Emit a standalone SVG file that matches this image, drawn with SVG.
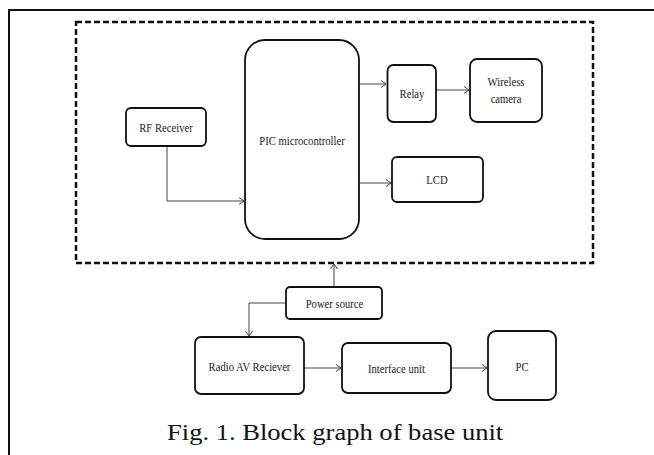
<svg xmlns="http://www.w3.org/2000/svg" width="654" height="455" viewBox="0 0 654 455">
<style>
.box{fill:#fff;stroke:#111;stroke-width:1.8}
.lbl{font-family:'Liberation Serif',serif;font-size:13px;fill:#222;text-anchor:middle}
.con{fill:none;stroke:#444;stroke-width:1}
.cap{font-family:'Liberation Serif',serif;font-size:24px;fill:#111}
</style>
<defs>
<marker id="ar" markerWidth="8" markerHeight="8" refX="6" refY="4" orient="auto" markerUnits="userSpaceOnUse">
<path d="M1,0.5 L6,4 L1,7.5" fill="none" stroke="#444" stroke-width="1"/>
</marker>
</defs>
<rect width="654" height="455" fill="#fff"/>
<path d="M9,455 V10 H654" fill="none" stroke="#111" stroke-width="2"/>
<rect id="unit-boundary" x="76" y="22" width="517" height="241" fill="none" stroke="#111" stroke-width="2.5" stroke-dasharray="6,3"/>
<g id="connectors">
<path class="con" d="M167,146 V201 H244" marker-end="url(#ar)"/>
<path class="con" d="M359,84 H386" marker-end="url(#ar)"/>
<path class="con" d="M436,90 H469" marker-end="url(#ar)"/>
<path class="con" d="M359,183 H391" marker-end="url(#ar)"/>
<path class="con" d="M334,287 V264" marker-end="url(#ar)"/>
<path class="con" d="M286,303 H249 V336" marker-end="url(#ar)"/>
<path class="con" d="M304,368 H341" marker-end="url(#ar)"/>
<path class="con" d="M451,368 H487" marker-end="url(#ar)"/>
</g>
<g id="rf-receiver"><rect class="box" x="126" y="108" width="80" height="38" rx="5"/><text class="lbl" transform="translate(166,132) scale(0.82,1)">RF Receiver</text></g>
<g id="pic"><rect class="box" x="245" y="40" width="114" height="199" rx="20"/><text class="lbl" transform="translate(302,145) scale(0.82,1)">PIC microcontroller</text></g>
<g id="relay"><rect class="box" x="387.5" y="65" width="48.5" height="57" rx="6"/><text class="lbl" transform="translate(412,98) scale(0.82,1)">Relay</text></g>
<g id="wireless-camera"><rect class="box" x="470" y="59" width="72" height="63" rx="7"/><text class="lbl" transform="translate(506,86) scale(0.82,1)">Wireless</text><text class="lbl" transform="translate(506,103) scale(0.82,1)">camera</text></g>
<g id="lcd"><rect class="box" x="392" y="157" width="91" height="45" rx="5"/><text class="lbl" transform="translate(437,184) scale(0.82,1)">LCD</text></g>
<g id="power-source"><rect class="box" x="286" y="287" width="96" height="32" rx="4"/><text class="lbl" transform="translate(334.5,308) scale(0.82,1)">Power source</text></g>
<g id="radio-av"><rect class="box" x="195" y="337" width="109" height="57" rx="6"/><text class="lbl" transform="translate(249.5,371) scale(0.82,1)">Radio AV Reciever</text></g>
<g id="interface-unit"><rect class="box" x="342" y="343" width="109" height="50" rx="6"/><text class="lbl" transform="translate(396.5,373) scale(0.82,1)">Interface unit</text></g>
<g id="pc"><rect class="box" x="488" y="331" width="68" height="69" rx="8"/><text class="lbl" transform="translate(522,371) scale(0.82,1)">PC</text></g>
<text class="cap" transform="translate(167,440) scale(1.107,1)">Fig. 1. Block graph of base unit</text>
</svg>
